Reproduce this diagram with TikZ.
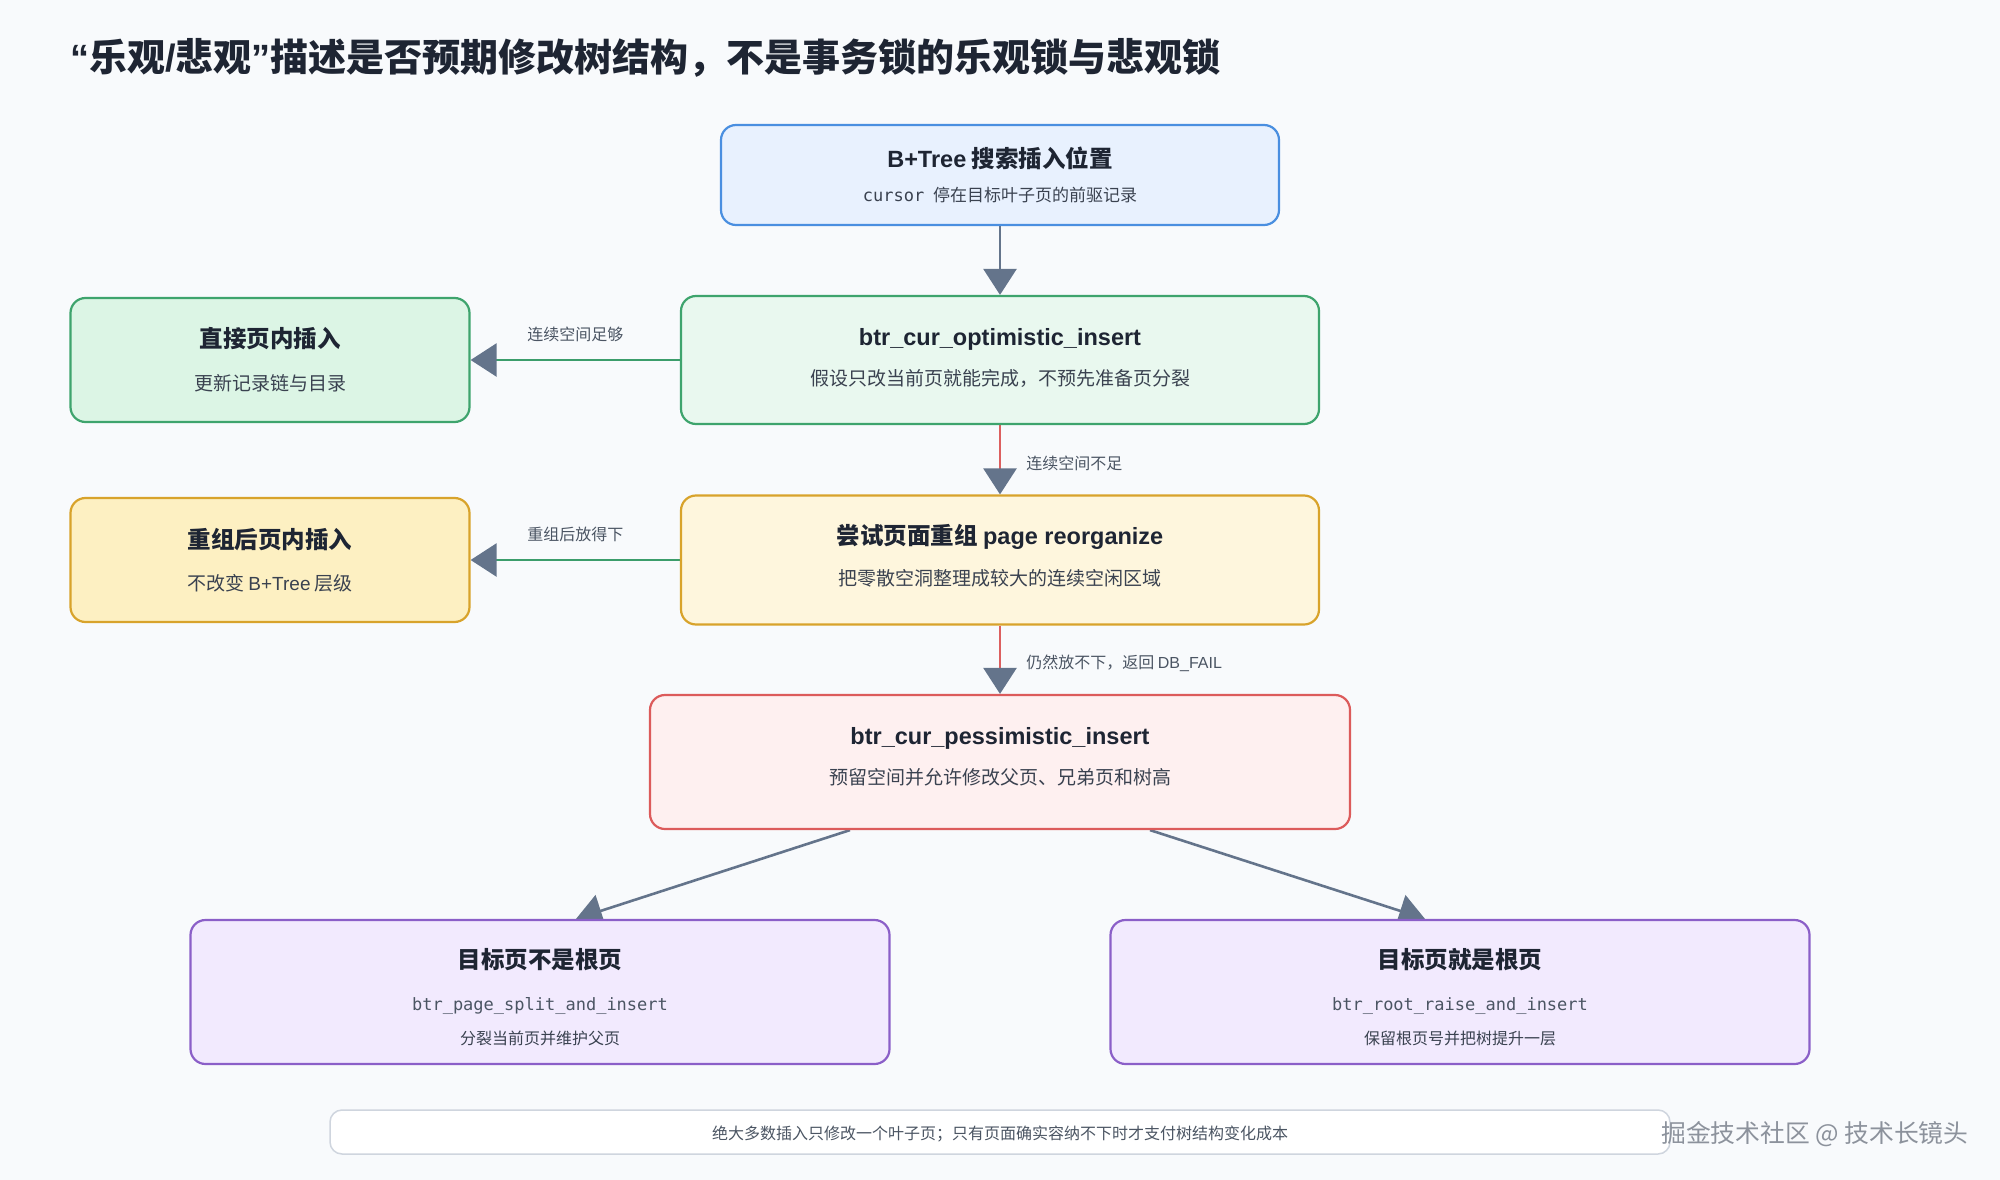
\documentclass[tikz,border=0pt]{standalone}
\usepackage{fontspec}
\setmainfont{Noto Sans CJK SC}
\newfontfamily\latfont{Liberation Sans}
\newfontfamily\monofont{DejaVu Sans Mono}
\usetikzlibrary{arrows.meta,calc}
\pgfdeclarelayer{bglayer}
\pgfdeclarelayer{edgelayer}
\pgfsetlayers{bglayer,edgelayer,main}
\newcommand\lat[1]{{\latfont #1}}
\newcommand\mono[1]{{\monofont #1}}
\newcommand\myfs[1]{\fontsize{#1pt}{#1pt}\selectfont}
\definecolor{bgc}{HTML}{F8FAFC}
\definecolor{ink}{HTML}{1E2533}
\definecolor{subc}{HTML}{3A4250}
\definecolor{lblc}{HTML}{4B5563}
\definecolor{slate}{HTML}{64748B}
\definecolor{gline}{HTML}{3B9D6B}
\definecolor{rline}{HTML}{DC5F5F}
\definecolor{bA}{HTML}{4A8FE0}\definecolor{fA}{HTML}{E8F1FE}
\definecolor{bG}{HTML}{3EA46D}\definecolor{fB}{HTML}{E9F8EF}\definecolor{fC}{HTML}{DCF5E5}
\definecolor{bY}{HTML}{D8A32B}\definecolor{fD}{HTML}{FDF0C2}\definecolor{fE}{HTML}{FEF6DD}
\definecolor{bR}{HTML}{DC5B5B}\definecolor{fF}{HTML}{FEF0F0}
\definecolor{bP}{HTML}{8B5FC8}\definecolor{fP}{HTML}{F2EAFE}
\definecolor{bZ}{HTML}{CFD5DE}
\definecolor{wm}{HTML}{8C929C}
\begin{document}
\begin{tikzpicture}[x=1pt,y=-1pt,
  box/.style={draw, rounded corners=15pt, line width=2.2pt, inner sep=0pt},
  ttl/.style={font={\myfs{23.5}\bfseries}, text=ink, inner sep=0pt, text height=20pt, text depth=2.5pt},
  sub/.style={font={\myfs{19}}, text=subc, inner sep=0pt, text height=16pt, text depth=2pt},
  subA/.style={font={\myfs{17}}, text=subc, inner sep=0pt, text height=14.5pt, text depth=2pt},
  subS/.style={font={\myfs{16}}, text=subc, inner sep=0pt, text height=13.5pt, text depth=1.5pt},
  monot/.style={font={\myfs{17}\monofont}, text=lblc, inner sep=0pt, text height=14pt, text depth=4pt},
  lbl/.style={font={\myfs{16}}, text=lblc, inner sep=0pt, text height=13.5pt, text depth=1.5pt},
  arr/.style={line width=2.6pt, -{Triangle[length=26pt,width=33pt,color=slate,fill=slate]}},
  maintitle/.style={font={\myfs{38}\bfseries}, text=ink, inner sep=0pt, text height=33pt, text depth=4pt}
]
\useasboundingbox (0,0) rectangle (2000,1180);
\begin{pgfonlayer}{bglayer}
\fill[bgc] (0,0) rectangle (2000,1180);
\end{pgfonlayer}

\node[maintitle, anchor=west] (T) at (70,57) {\lat{“}乐观\lat{/}悲观\lat{”}描述是否预期修改树结构，不是事务锁的乐观锁与悲观锁};

% boxes
\node[box, draw=bA, fill=fA, minimum width=558pt, minimum height=100pt] (A) at (1000,175) {};
\node[ttl] (At) at (1000,159) {\lat{B+Tree} 搜索插入位置};
\node[subA] (As) at (1000,195) {\mono{cursor}\hspace{5pt} 停在目标叶子页的前驱记录};

\node[box, draw=bG, fill=fB, minimum width=638pt, minimum height=128pt] (B) at (1000,360) {};
\node[ttl] (Bt) at (1000,337) {\lat{btr\_cur\_optimistic\_insert}};
\node[sub] (Bs) at (1000,378) {假设只改当前页就能完成，不预先准备页分裂};

\node[box, draw=bG, fill=fC, minimum width=399pt, minimum height=124pt] (C) at (270,360) {};
\node[ttl] (Ct) at (270,339) {直接页内插入};
\node[sub] (Cs) at (270,383) {更新记录链与目录};

\node[box, draw=bY, fill=fD, minimum width=399pt, minimum height=124pt] (D) at (270,560) {};
\node[ttl] (Dt) at (270,540) {重组后页内插入};
\node[sub] (Ds) at (270,583) {不改变 \lat{B+Tree} 层级};

\node[box, draw=bY, fill=fE, minimum width=638pt, minimum height=129pt] (E) at (1000,560) {};
\node[ttl] (Et) at (1000,536) {尝试页面重组 \lat{page reorganize}};
\node[sub] (Es) at (1000,578) {把零散空洞整理成较大的连续空闲区域};

\node[box, draw=bR, fill=fF, minimum width=700pt, minimum height=134pt] (F) at (1000,762) {};
\node[ttl] (Ft) at (1000,736) {\lat{btr\_cur\_pessimistic\_insert}};
\node[sub] (Fs) at (1000,777) {预留空间并允许修改父页、兄弟页和树高};

\node[box, draw=bP, fill=fP, minimum width=699pt, minimum height=144pt] (G) at (540,992) {};
\node[ttl] (Gt) at (540,960) {目标页不是根页};
\node[monot] (Gm) at (540,1005) {btr\_page\_split\_and\_insert};
\node[subS] (Gs) at (540,1038) {分裂当前页并维护父页};

\node[box, draw=bP, fill=fP, minimum width=699pt, minimum height=144pt] (H) at (1460,992) {};
\node[ttl] (Ht) at (1460,960) {目标页就是根页};
\node[monot] (Hm) at (1460,1005) {btr\_root\_raise\_and\_insert};
\node[subS] (Hs) at (1460,1038) {保留根页号并把树提升一层};

\node[draw=bZ, fill=white, line width=1.5pt, rounded corners=12pt, inner sep=0pt, minimum width=1340pt, minimum height=44pt] (Z) at (1000,1132) {};
\node[lbl] (Zt) at (1000,1133) {绝大多数插入只修改一个叶子页；只有页面确实容纳不下时才支付树结构变化成本};

\node[font={\myfs{24.8}}, text=wm, inner sep=0pt, anchor=west, text height=21pt, text depth=3pt] (W) at (1661,1133) {掘金技术社区 @ 技术长镜头};

% connectors
\begin{pgfonlayer}{edgelayer}
\draw[arr, draw=slate] (A.south) -- (B.north);
\draw[arr, draw=gline] (B.west) -- (C.east) node[lbl, midway, yshift=26pt] (L1) {连续空间足够};
\draw[arr, draw=rline] (B.south) -- (E.north) node[lbl, midway, anchor=west, xshift=25pt, yshift=-4pt] (L2) {连续空间不足};
\draw[arr, draw=gline] (E.west) -- (D.east) node[lbl, midway, yshift=26pt] (L3) {重组后放得下};
\draw[arr, draw=rline] (E.south) -- (F.north) node[lbl, midway, anchor=west, xshift=25pt, yshift=-3pt] (L4) {仍然放不下，返回 \lat{DB\_FAIL}};
\draw[arr, draw=slate] ($(F.south)+(-150,0)$) -- ($(G.north)+(36,0)$);
\draw[arr, draw=slate] ($(F.south)+(150,0)$) -- ($(H.north)+(-35,0)$);
\end{pgfonlayer}
\end{tikzpicture}
\end{document}
